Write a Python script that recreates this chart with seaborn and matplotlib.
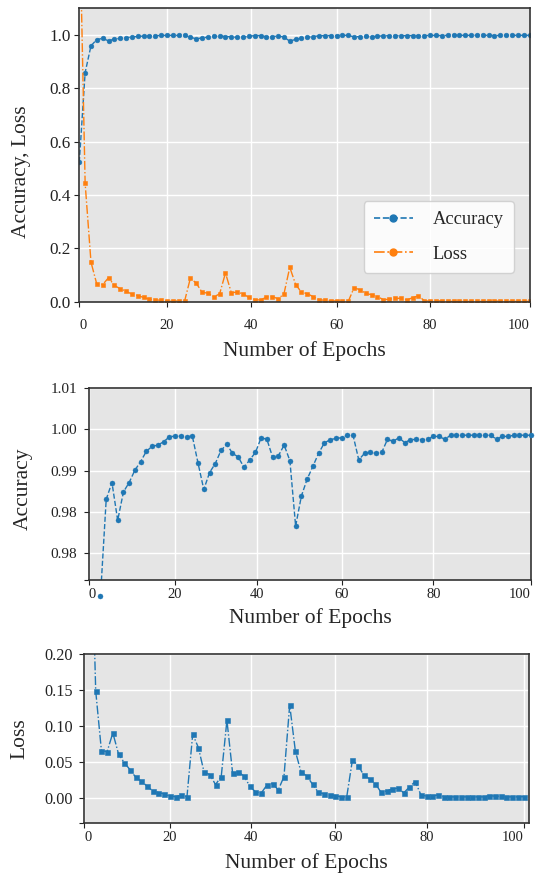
import numpy as np
import pandas as pd
import matplotlib
matplotlib.use("Agg")
import matplotlib.pyplot as plt
from matplotlib.lines import Line2D
import seaborn as sns

# ---------------- data ----------------
accuracy = [0.523, 0.859, 0.9594, 0.9830, 0.9871, 0.9779, 0.9848, 0.9871, 0.9901, 0.9922,
            0.9947, 0.9959, 0.9962, 0.9970, 0.9982, 0.9984, 0.9984, 0.9982, 0.9984, 0.9918,
            0.9854, 0.9895, 0.9917, 0.9949, 0.9964, 0.9942, 0.9933, 0.9908, 0.9926, 0.9944,
            0.9980, 0.9976, 0.9932, 0.9936, 0.9962, 0.9924, 0.9765, 0.9838, 0.9879, 0.9910,
            0.9942, 0.9967, 0.9975, 0.9978, 0.9980, 0.9986, 0.9986, 0.9926, 0.9942, 0.9944,
            0.9942, 0.9944, 0.9976, 0.9971, 0.9980, 0.9968, 0.9975, 0.9976, 0.9975, 0.9976,
            0.9983, 0.9983, 0.9976, 0.9986, 0.9986, 0.9986, 0.9986, 0.9986, 0.9986, 0.9986,
            0.9986, 0.9976, 0.9983, 0.9983, 0.9986, 0.9986, 0.9986, 0.9986]
loss = [1.50, 0.444, 0.1485, 0.0654, 0.0640, 0.0900, 0.0608, 0.0487, 0.0390, 0.0284,
        0.0228, 0.0159, 0.0093, 0.0070, 0.0051, 0.0019, 0.0014, 0.0033, 0.0014, 0.0882,
        0.0696, 0.0353, 0.0320, 0.0181, 0.0292, 0.1077, 0.0339, 0.0358, 0.0298, 0.0159,
        0.0079, 0.0061, 0.0173, 0.0195, 0.0107, 0.0292, 0.1290, 0.0645, 0.0353, 0.0302,
        0.0186, 0.0075, 0.0051, 0.0033, 0.0028, 0.0010, 0.0010, 0.0525, 0.0446, 0.0312,
        0.0260, 0.0195, 0.0075, 0.0093, 0.0121, 0.0131, 0.0065, 0.0149, 0.0223, 0.0038,
        0.0019, 0.0019, 0.0038, 0.0014, 0.0010, 0.0010, 0.0010, 0.0010, 0.0010, 0.0010,
        0.0010, 0.0028, 0.0019, 0.0019, 0.0010, 0.0010, 0.0010, 0.0014]
step = list(range(len(accuracy)))

xtick_pos = [0, 15, 29.3, 44, 60, 77]
xtick_labels = ["0", "20", "40", "60", "80", "100"]

top_yticks = [0.0, 0.2, 0.4, 0.6, 0.8, 1.0]
top_yticklabels = ["0.0", "0.2", "0.4", "0.6", "0.8", "1.0"]
mid_yticks = [0.9634, 0.97, 0.98, 0.99, 1.00, 1.01]
mid_yticklabels = ["", "0.98", "0.98", "0.99", "1.00", "1.01"]
bot_yticks = [-0.035, 0.00, 0.05, 0.10, 0.15, 0.20]
bot_yticklabels = ["", "0.00", "0.05", "0.10", "0.15", "0.20"]

df = pd.DataFrame({"step": step, "accuracy": accuracy, "loss": loss})

# ---------------- style ----------------
sns.set_style("darkgrid", rc={
    "axes.facecolor": "#E5E5E5",
    "grid.color": "white",
    "grid.linewidth": 1.0,
    "axes.edgecolor": "#333333",
    "axes.linewidth": 1.2,
    "xtick.bottom": True,
    "ytick.left": True,
    "xtick.color": "#222222",
    "ytick.color": "#222222",
    "xtick.major.size": 3.0,
    "ytick.major.size": 3.0,
    "xtick.major.width": 1.0,
    "ytick.major.width": 1.0,
})
plt.rcParams["font.family"] = ["Liberation Serif", "DejaVu Serif"]
plt.rcParams["axes.axisbelow"] = True

C0 = "#1f77b4"
C1 = "#ff7f0e"
LABEL_FS = 15.5

fig = plt.figure(figsize=(5.39, 8.74), dpi=100)
ax1 = fig.add_axes([0.1471, 0.6548, 0.8353, 0.3357])
ax2 = fig.add_axes([0.1651, 0.3364, 0.8200, 0.2193])
ax3 = fig.add_axes([0.1564, 0.0587, 0.8256, 0.1930])

# ---- top: accuracy & loss ----
sns.lineplot(data=df, x="step", y="accuracy", ax=ax1, color=C0, linestyle="--",
             linewidth=1.0, marker="o", markersize=3.4, markeredgecolor=C0,
             markeredgewidth=0.4)
sns.lineplot(data=df, x="step", y="loss", ax=ax1, color=C1, linestyle="-.",
             linewidth=1.0, marker="s", markersize=3.3, markeredgecolor=C1,
             markeredgewidth=0.4)
ax1.set_xlim(0, 77)
ax1.set_ylim(0, 1.1)
ax1.set_yticks(top_yticks)
ax1.set_yticklabels(top_yticklabels)

handles = [
    Line2D([], [], color=C0, linestyle="--", linewidth=1.2, marker="o", markersize=5),
    Line2D([], [], color=C1, linestyle="-.", linewidth=1.2, marker="o", markersize=5),
]
leg = ax1.legend(handles, ["Accuracy", "Loss"], loc="lower right",
                 bbox_to_anchor=(0.9656, 0.0978), borderaxespad=0,
                 fontsize=13.3, handlelength=2.1, handletextpad=1.1,
                 labelspacing=0.95, borderpad=0.55, fancybox=True,
                 frameon=True)
leg.get_frame().set_facecolor("white")
leg.get_frame().set_alpha(0.85)
leg.get_frame().set_edgecolor("#CCCCCC")
ax1.set_ylabel("Accuracy, Loss", fontsize=LABEL_FS)
ax1.yaxis.set_label_coords(-0.107, 0.444)

# ---- middle: accuracy ----
sns.lineplot(data=df, x="step", y="accuracy", ax=ax2, color=C0, linestyle="--",
             linewidth=1.0)
sns.scatterplot(data=df, x="step", y="accuracy", ax=ax2, color=C0, s=13,
                edgecolor=C0, linewidth=0.3, clip_on=False, zorder=3)
ax2.set_xlim(0, 77)
ax2.set_ylim(0.9634, 1.01)
ax2.set_yticks(mid_yticks)
ax2.set_yticklabels(mid_yticklabels)
ax2.set_ylabel("Accuracy", fontsize=LABEL_FS)
ax2.yaxis.set_label_coords(-0.128, 0.475)

# ---- bottom: loss ----
sns.lineplot(data=df, x="step", y="loss", ax=ax3, color=C0, linestyle="-.",
             linewidth=1.0, marker="s", markersize=3.6, markeredgecolor=C0,
             markeredgewidth=0.4)
ax3.set_xlim(0, 78)
ax3.set_ylim(-0.035, 0.20)
ax3.set_yticks(bot_yticks)
ax3.set_yticklabels(bot_yticklabels)
ax3.set_ylabel("Loss", fontsize=LABEL_FS)
ax3.yaxis.set_label_coords(-0.124, 0.5)

settings = {
    ax1: dict(label_y=-0.134, xpad=9.0, ypad=2.5, yfs=12.3),
    ax2: dict(label_y=-0.146, xpad=2.5, ypad=5.0, yfs=11.0),
    ax3: dict(label_y=-0.18, xpad=2.8, ypad=4.6, yfs=11.7),
}
for ax, st in settings.items():
    ax.set_xticks(xtick_pos)
    ax.set_xticklabels(xtick_labels)
    ax.tick_params(axis="x", labelsize=10.5, pad=st["xpad"], direction="out")
    ax.tick_params(axis="y", labelsize=st["yfs"], pad=st["ypad"], direction="out")
    xl = ax.get_xticklabels()
    xl[0].set_ha("left")
    xl[-1].set_ha("right")
    ax.set_xlabel("Number of Epochs", fontsize=LABEL_FS)
    ax.xaxis.set_label_coords(0.5, st["label_y"])
    ax.grid(True, color="white", linewidth=1.0)
    for side in ("left", "bottom", "top", "right"):
        ax.spines[side].set_visible(True)
        ax.spines[side].set_color("#333333")
        ax.spines[side].set_linewidth(1.2)

fig.savefig("out.png", dpi=100)
